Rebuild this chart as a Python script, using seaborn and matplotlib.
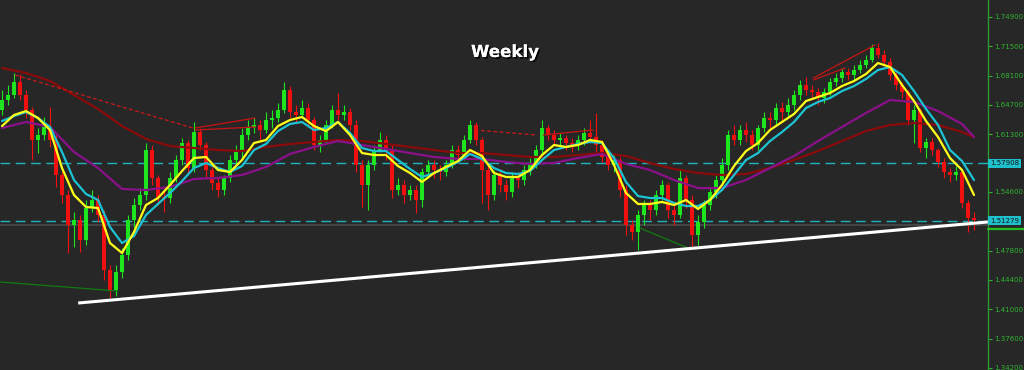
import matplotlib
matplotlib.use("Agg")
import matplotlib.pyplot as plt
import matplotlib.patheffects as pe
import matplotlib.transforms as mtrans
from matplotlib.lines import Line2D
import seaborn as sns

# ---------------- data ----------------
first_open = 1.6411
closes = [1.6527, 1.6585, 1.6736, 1.6585, 1.6411, 1.6063, 1.6121, 1.6214, 1.6063, 1.5657,
          1.5425, 1.5077, 1.5135, 1.4903, 1.5274, 1.5367, 1.5193, 1.4555, 1.4323, 1.4532,
          1.4729, 1.5135, 1.5309, 1.5425, 1.5947, 1.5622, 1.5402, 1.5390, 1.5622, 1.5831,
          1.6028, 1.5738, 1.6156, 1.6005, 1.5715, 1.5564, 1.5483, 1.5622, 1.5831, 1.5924,
          1.6121, 1.6214, 1.6237, 1.6179, 1.6295, 1.6318, 1.6411, 1.6643, 1.6388, 1.6353,
          1.6434, 1.6295, 1.6005, 1.6063, 1.6237, 1.6411, 1.6353, 1.6388, 1.6237, 1.5773,
          1.5541, 1.5773, 1.5947, 1.6063, 1.5947, 1.5483, 1.5541, 1.5425, 1.5483, 1.5367,
          1.5692, 1.5773, 1.5715, 1.5692, 1.5773, 1.5947, 1.5889, 1.6063, 1.6237, 1.6063,
          1.5715, 1.5425, 1.5657, 1.5541, 1.5460, 1.5622, 1.5599, 1.5715, 1.5796, 1.5947,
          1.6202, 1.6121, 1.6063, 1.6086, 1.6028, 1.6005, 1.6063, 1.6144, 1.6098, 1.6005,
          1.5866, 1.5773, 1.5831, 1.5483, 1.5077, 1.4996, 1.5193, 1.5309, 1.5251, 1.5425,
          1.5541, 1.5251, 1.5193, 1.5622, 1.5367, 1.4961, 1.5112, 1.5309, 1.5460, 1.5599,
          1.5773, 1.6121, 1.6063, 1.6179, 1.6121, 1.6005, 1.6202, 1.6318, 1.6295, 1.6434,
          1.6388, 1.6469, 1.6585, 1.6701, 1.6643, 1.6620, 1.6550, 1.6620, 1.6736, 1.6782,
          1.6852, 1.6817, 1.6875, 1.6933, 1.6991, 1.7130, 1.7049, 1.6968, 1.6817, 1.6701,
          1.6620, 1.6295, 1.6411, 1.5970, 1.6040, 1.5947, 1.5808, 1.5692, 1.5657, 1.5692,
          1.5332, 1.5158, 1.5135]
highs = [1.6643, 1.6701, 1.6840, 1.6829, 1.6643, 1.6446, 1.6202, 1.6330, 1.6446, 1.6121,
         1.5715, 1.5483, 1.5228, 1.5193, 1.5367, 1.5483, 1.5425, 1.5251, 1.4613, 1.4613,
         1.4810, 1.5193, 1.5390, 1.5506, 1.6028, 1.6005, 1.5657, 1.5483, 1.5692, 1.5889,
         1.6086, 1.6063, 1.6272, 1.6202, 1.6040, 1.5773, 1.5622, 1.5657, 1.5889, 1.6005,
         1.6202, 1.6295, 1.6318, 1.6295, 1.6388, 1.6411, 1.6492, 1.6736, 1.6689, 1.6469,
         1.6527, 1.6492, 1.6330, 1.6121, 1.6295, 1.6469, 1.6608, 1.6469, 1.6434, 1.6295,
         1.5831, 1.5831, 1.6005, 1.6156, 1.6121, 1.6005, 1.5622, 1.5599, 1.5541, 1.5541,
         1.5738, 1.5831, 1.5831, 1.5773, 1.5831, 1.6005, 1.6005, 1.6121, 1.6295, 1.6272,
         1.6098, 1.5773, 1.5715, 1.5715, 1.5599, 1.5692, 1.5680, 1.5773, 1.5854, 1.6005,
         1.6295, 1.6237, 1.6179, 1.6144, 1.6121, 1.6086, 1.6121, 1.6202, 1.6295, 1.6376,
         1.6063, 1.5924, 1.5889, 1.5866, 1.5541, 1.5135, 1.5251, 1.5367, 1.5367, 1.5483,
         1.5599, 1.5576, 1.5309, 1.5715, 1.5657, 1.5425, 1.5193, 1.5367, 1.5506, 1.5657,
         1.5854, 1.6179, 1.6237, 1.6237, 1.6272, 1.6179, 1.6237, 1.6388, 1.6388, 1.6492,
         1.6504, 1.6550, 1.6643, 1.6759, 1.6794, 1.6701, 1.6666, 1.6666, 1.6782, 1.6840,
         1.6898, 1.6898, 1.6933, 1.6991, 1.7049, 1.7177, 1.7188, 1.7107, 1.7014, 1.6852,
         1.6736, 1.6643, 1.6469, 1.6434, 1.6086, 1.6086, 1.5970, 1.5854, 1.5738, 1.5761,
         1.5715, 1.5367, 1.5228]
lows = [1.6353, 1.6469, 1.6550, 1.6527, 1.6318, 1.5831, 1.5912, 1.6063, 1.5982, 1.5518,
        1.5332, 1.4752, 1.4822, 1.4764, 1.4845, 1.5228, 1.5112, 1.4439, 1.4230, 1.4253,
        1.4462, 1.4671, 1.5042, 1.5251, 1.5367, 1.5541, 1.5309, 1.5228, 1.5332, 1.5576,
        1.5773, 1.5657, 1.5692, 1.5947, 1.5622, 1.5483, 1.5402, 1.5425, 1.5576, 1.5773,
        1.5854, 1.6063, 1.6144, 1.6063, 1.6144, 1.6202, 1.6272, 1.6376, 1.6318, 1.6260,
        1.6318, 1.6237, 1.5947, 1.5924, 1.6028, 1.6202, 1.6295, 1.6295, 1.6179, 1.5692,
        1.5286, 1.5251, 1.5715, 1.5924, 1.5831, 1.5390, 1.5425, 1.5332, 1.5367, 1.5216,
        1.5286, 1.5622, 1.5622, 1.5599, 1.5645, 1.5738, 1.5808, 1.5831, 1.6028, 1.6005,
        1.5332, 1.5251, 1.5367, 1.5460, 1.5367, 1.5402, 1.5506, 1.5541, 1.5657, 1.5738,
        1.5889, 1.6063, 1.6005, 1.5970, 1.5947, 1.5924, 1.5947, 1.6005, 1.6040, 1.5924,
        1.5808, 1.5715, 1.5692, 1.5402, 1.4961, 1.4903, 1.4787, 1.5077, 1.5135, 1.5193,
        1.5367, 1.5158, 1.5077, 1.5158, 1.5274, 1.4810, 1.4845, 1.5042, 1.5251, 1.5390,
        1.5541, 1.5715, 1.6005, 1.6005, 1.6040, 1.5947, 1.5947, 1.6156, 1.6202, 1.6237,
        1.6295, 1.6318, 1.6411, 1.6527, 1.6585, 1.6550, 1.6469, 1.6492, 1.6585, 1.6689,
        1.6736, 1.6759, 1.6759, 1.6840, 1.6898, 1.6968, 1.7014, 1.6921, 1.6759, 1.6643,
        1.6550, 1.6237, 1.6028, 1.5924, 1.5854, 1.5889, 1.5750, 1.5622, 1.5576, 1.5599,
        1.5274, 1.4996, 1.5019]

# fast moving averages sampled every 2 weeks
fast_idx = list(range(0, 163, 2))
ma_fast = [1.6225, 1.6353, 1.6399, 1.6318, 1.6179, 1.5738, 1.5425, 1.5286, 1.5274, 1.4868,
           1.4752, 1.4996, 1.5309, 1.5390, 1.5541, 1.5703, 1.5854, 1.5866, 1.5715, 1.5692,
           1.5831, 1.6028, 1.6063, 1.6225, 1.6295, 1.6330, 1.6225, 1.6167, 1.6272, 1.6121,
           1.5912, 1.5889, 1.5889, 1.5761, 1.5680, 1.5576, 1.5680, 1.5750, 1.5819, 1.5947,
           1.5877, 1.5680, 1.5634, 1.5634, 1.5715, 1.5889, 1.6005, 1.5982, 1.6005, 1.6063,
           1.6040, 1.5773, 1.5448, 1.5321, 1.5321, 1.5344, 1.5309, 1.5367, 1.5263, 1.5367,
           1.5541, 1.5761, 1.5935, 1.6028, 1.6179, 1.6272, 1.6365, 1.6515, 1.6562, 1.6608,
           1.6689, 1.6747, 1.6829, 1.6956, 1.6910, 1.6701, 1.6515, 1.6283, 1.6098, 1.5854,
           1.5715, 1.5425]
ma_mid = [1.6283, 1.6341, 1.6388, 1.6318, 1.6214, 1.5924, 1.5599, 1.5437, 1.5367, 1.5054,
          1.4868, 1.4949, 1.5193, 1.5321, 1.5448, 1.5587, 1.5738, 1.5796, 1.5738, 1.5692,
          1.5761, 1.5947, 1.6017, 1.6167, 1.6249, 1.6272, 1.6179, 1.6202, 1.6272, 1.6144,
          1.5970, 1.5935, 1.5935, 1.5831, 1.5727, 1.5634, 1.5680, 1.5738, 1.5808, 1.5901,
          1.5843, 1.5738, 1.5680, 1.5669, 1.5703, 1.5831, 1.5947, 1.5982, 1.6017, 1.6040,
          1.6028, 1.5854, 1.5576, 1.5413, 1.5390, 1.5390, 1.5332, 1.5297, 1.5297, 1.5367,
          1.5483, 1.5657, 1.5831, 1.5912, 1.6051, 1.6156, 1.6272, 1.6434, 1.6504, 1.6550,
          1.6631, 1.6689, 1.6771, 1.6875, 1.6910, 1.6817, 1.6631, 1.6423, 1.6237, 1.5947,
          1.5819, 1.5599]

# slow moving averages sampled every 4 weeks
slow_idx = [0, 4, 8, 12, 16, 20, 24, 28, 32, 36, 40, 44, 48, 52, 56, 60, 64, 68, 72, 76,
            80, 84, 88, 92, 96, 100, 104, 108, 112, 116, 120, 124, 128, 132, 136, 140, 144,
            148, 152, 156, 160, 162]
ma_slow = [1.6202, 1.6272, 1.6214, 1.5924, 1.5738, 1.5495, 1.5483, 1.5518, 1.5611, 1.5622,
           1.5657, 1.5750, 1.5901, 1.5982, 1.6051, 1.6005, 1.5959, 1.5912, 1.5866, 1.5843,
           1.5843, 1.5808, 1.5785, 1.5796, 1.5854, 1.5901, 1.5785, 1.5715, 1.5599, 1.5506,
           1.5506, 1.5599, 1.5738, 1.5877, 1.6051, 1.6214, 1.6376, 1.6527, 1.6504, 1.6399,
           1.6249, 1.6098]
ma_long = [1.6898, 1.6840, 1.6747, 1.6585, 1.6423, 1.6225, 1.6075, 1.5993, 1.5970, 1.5947,
           1.5935, 1.5982, 1.6017, 1.6040, 1.6063, 1.6051, 1.6017, 1.5982, 1.5947, 1.5912,
           1.5912, 1.5889, 1.5866, 1.5866, 1.5889, 1.5912, 1.5877, 1.5796, 1.5727, 1.5680,
           1.5657, 1.5669, 1.5738, 1.5831, 1.5935, 1.6051, 1.6167, 1.6237, 1.6260, 1.6237,
           1.6156, 1.6098]

levels = [1.57908, 1.51279]
bid_level = 1.5077
axis_ticks = [1.749, 1.715, 1.681, 1.647, 1.613, 1.546, 1.478, 1.444, 1.410, 1.376, 1.342]

support_x = [12.7, 164.3]
support_y = [1.4172, 1.5112]
red_dashed = [([2.2, 31.8], [1.6817, 1.6202]), ([78.8, 89.2], [1.6179, 1.6121])]
red_solid = [([32.2, 42.2], [1.6202, 1.6318]), ([32.2, 42.2], [1.6179, 1.6214]),
             ([90.2, 98.5], [1.6121, 1.6179]), ([135.2, 145.5], [1.6782, 1.7165]),
             ([135.2, 140.5], [1.6759, 1.6898])]
green_thin = [([-0.33, 19.3], [1.4416, 1.4311]), ([106.3, 114.7], [1.5042, 1.4799])]

# ---------------- style ----------------
BG = "#272727"
sns.set_style("dark", {"axes.facecolor": BG, "figure.facecolor": BG})
plt.rcParams["font.family"] = ["DejaVu Sans"]

fig = plt.figure(figsize=(10.24, 3.70), dpi=100)
fig.patch.set_facecolor(BG)
ax = fig.add_axes([0, 0, 988 / 1024, 1])
ax.set_facecolor(BG)

n = len(closes)
xs = list(range(n))
opens = [first_open] + closes[:-1]

# reference levels
for lv in levels:
    ax.axhline(lv, color="#1fb3bf", lw=1.0, dashes=(7, 4), zorder=1)
ax.axhline(bid_level, color="#4a4a4a", lw=1.2, zorder=1)

# candles
UP, DN = "#1ee61e", "#f01010"
cols = [UP if c >= o else DN for o, c in zip(opens, closes)]
ax.vlines(xs, lows, highs, colors=cols, lw=0.8, zorder=2)
bodies = [max(abs(c - o), 0.0008) for o, c in zip(opens, closes)]
bottoms = [min(o, c) for o, c in zip(opens, closes)]
ax.bar(xs, bodies, bottom=bottoms, width=0.6, color=cols, linewidth=0, zorder=3)

# moving averages
sns.lineplot(x=slow_idx, y=ma_long, ax=ax, color="#8b0a0a", lw=1.6, zorder=4)
sns.lineplot(x=slow_idx, y=ma_slow, ax=ax, color="#8a118a", lw=1.6, zorder=4)
sns.lineplot(x=fast_idx, y=ma_mid, ax=ax, color="#1cc3d3", lw=1.6, zorder=5)
sns.lineplot(x=fast_idx, y=ma_fast, ax=ax, color="#ffff1a", lw=1.6, zorder=6)

# drawn objects
for lx, ly in red_dashed:
    ax.plot(lx, ly, color="#d01818", lw=0.9, dashes=(3, 2), zorder=4)
for lx, ly in red_solid:
    ax.plot(lx, ly, color="#c81414", lw=0.9, zorder=4)
for lx, ly in green_thin:
    ax.plot(lx, ly, color="#137a13", lw=0.9, zorder=4)
ax.plot(support_x, support_y, color="white", lw=2.2, zorder=7, solid_capstyle="butt")

# axes
ax.set_xlim(-0.333, 164.33)
ax.set_ylim(1.3395, 1.7687)
ax.set_xticks([])
ax.yaxis.tick_right()
ax.set_yticks(axis_ticks)
ax.set_yticklabels([f"{t:.5f}" for t in axis_ticks])
ax.tick_params(axis="y", colors="#2fb52f", labelsize=5.0, length=3, width=0.8,
               pad=1.5, direction="out")
for s in ["top", "left", "bottom"]:
    ax.spines[s].set_visible(False)
ax.spines["right"].set_color("#2f9a2f")
ax.spines["right"].set_linewidth(1.0)
ax.grid(False)

# price labels on the axis
trans = mtrans.blended_transform_factory(ax.transAxes, ax.transData)
for lv in levels:
    ax.text(1.0022, lv, f"{lv:.5f}", transform=trans, ha="left", va="center",
            fontsize=5.0, color="#151515", clip_on=False, zorder=10,
            bbox=dict(boxstyle="square,pad=0.25", fc="#1ec0cc", ec="none"))
fig.add_artist(Line2D([988 / 1024, 1.0], [1 - 229 / 370] * 2, color="#22c022", lw=1.6))

# title
ax.text(505 / 988, 1 - 52 / 370, "Weekly", transform=ax.transAxes, ha="center",
        va="center", fontsize=12, fontweight="bold", color="white", zorder=10,
        path_effects=[pe.withSimplePatchShadow(offset=(1.2, -1.2), shadow_rgbFace="black", alpha=0.9),
                      pe.Normal()])

fig.savefig("out.png", dpi=100, facecolor=BG)
